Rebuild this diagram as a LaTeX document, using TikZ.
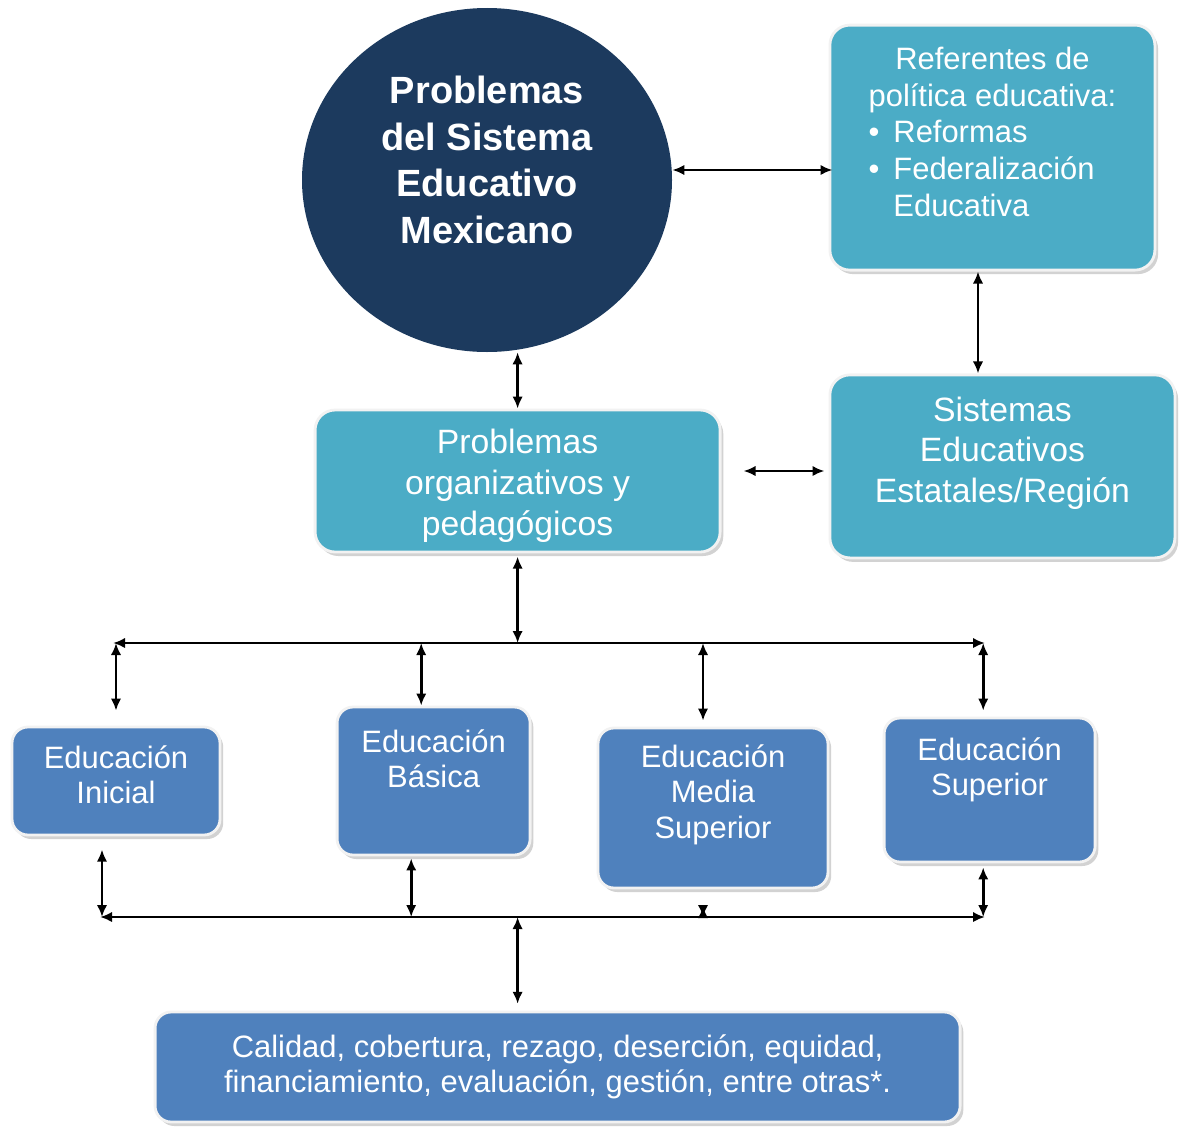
\documentclass[tikz,border=0pt]{standalone}
\usepackage{fontspec}
\setmainfont{Liberation Sans}
\usetikzlibrary{arrows.meta,calc,positioning,shadows,shapes.geometric}
\definecolor{Navy}{HTML}{1C3A5E}
\definecolor{Teal}{HTML}{4BACC6}
\definecolor{Steel}{HTML}{4F81BD}
\definecolor{Rim}{HTML}{F2F2F2}

\begin{document}
\begin{tikzpicture}[
  every node/.style={align=center,text=white},
  box/.style={draw=Rim,line width=2pt,rounded corners=0.5cm,fill=Teal,
    drop shadow={shadow xshift=0.08cm,shadow yshift=-0.1cm,fill=black!35}},
  edu/.style={box,fill=Steel,rounded corners=0.4cm},
  txt/.style={font=\fontsize{22}{25}\selectfont},
  big/.style={font=\fontsize{24}{29}\selectfont},
  arr/.style={{Latex[length=3mm,width=2.6mm]}-{Latex[length=3mm,width=2.6mm]},line width=2pt,black}
]
  \useasboundingbox (0,0) rectangle (29.475,-28.2);
  % upper part
  \node[ellipse,fill=Navy,minimum width=9.25cm,minimum height=8.6cm,inner sep=0pt,
    label={[font=\fontsize{27}{33}\selectfont\bfseries,yshift=0.5cm]center:{Problemas\\del Sistema\\Educativo\\Mexicano}}] (circ) at (12.175,-4.5) {};
  \node[box,minimum width=8.125cm,minimum height=6.125cm,
    label={[font=\fontsize{22}{26}\selectfont,yshift=0.3cm]center:{\begin{tabular}{@{}c@{\hspace{0.35cm}}l@{}}
      \multicolumn{2}{@{}c@{}}{Referentes de}\\
      \multicolumn{2}{@{}c@{}}{política educativa:}\\
      \textbullet & Reformas\\
      \textbullet & Federalización\\
                  & Educativa
    \end{tabular}}}] (ref) at (24.81,-3.69) {};
  \node[box,minimum width=8.625cm,minimum height=4.575cm,
    label={[big,yshift=0.33cm]center:{Sistemas\\Educativos\\Estatales/Región}}] (sist) at (25.06,-11.66) {};
  \node[box,minimum width=10.125cm,minimum height=3.55cm,
    label={[big,yshift=-0.12cm]center:{Problemas\\organizativos y\\pedagógicos}}] (org) at (12.94,-12.025) {};
  % levels
  \node[edu,minimum width=5.2cm,minimum height=2.7cm,
    label={[txt,yshift=0.15cm]center:{Educación\\Inicial}}] (inicial) at (2.9,-19.525) {};
  \node[edu,minimum width=4.825cm,minimum height=3.7cm,
    label={[txt,yshift=0.55cm]center:{Educación\\Básica}}] (basica) at (10.84,-19.525) {};
  \node[edu,minimum width=5.75cm,minimum height=4cm,
    label={[txt,yshift=0.33cm]center:{Educación\\Media\\Superior}}] (media) at (17.825,-20.2) {};
  \node[edu,minimum width=5.275cm,minimum height=3.6cm,
    label={[txt,yshift=0.5cm]center:{Educación\\Superior}}] (superior) at (24.74,-19.75) {};
  \node[edu,txt,minimum width=20.125cm,minimum height=2.75cm] (bot) at (13.94,-26.675) {Calidad, cobertura, rezago, deserción, equidad,\\financiamiento, evaluación, gestión, entre otras*.};
  % buses
  \coordinate (tl) at (2.825,-16.075);
  \coordinate (tr) at (24.625,-16.075);
  \coordinate (bl) at (2.5,-22.925);
  \coordinate (br) at (24.625,-22.925);
  % connectors
  \draw[arr] ($(circ.east)+(0,0.25)$) -- ($(circ.east -| ref.west)+(0.1,0.25)$);
  \draw[arr] ($(ref.south)+(-0.36,0)$) -- ($(ref.south |- sist.north)+(-0.36,0)$);
  \draw[arr] (org.north |- circ.south) -- (org.north);
  \draw[arr] ($(org.east)+(0.55,0.25)$) -- ($(org.east -| sist.west)+(-0.1,0.25)$);
  \draw[arr] (tl) -- (tr);
  \draw[arr,shorten <=0.08cm] (org.south) -- (org.south |- tl);
  \draw[arr,shorten >=0.375cm] (inicial.north |- tl) -- (inicial.north);
  \draw[arr] ($(basica.north |- tl)+(-0.31,0)$) -- ($(basica.north)+(-0.31,0)$);
  \draw[arr,shorten >=0.15cm] ($(media.north |- tl)+(-0.25,0)$) -- ($(media.north)+(-0.25,0)$);
  \draw[arr,shorten >=0.15cm] ($(superior.north |- tl)+(-0.16,0)$) -- ($(superior.north)+(-0.16,0)$);
  \draw[arr] (bl) -- (br);
  \draw[arr,shorten <=0.33cm] ($(inicial.south)+(-0.35,0)$) -- ($(inicial.south |- bl)+(-0.35,0)$);
  \draw[arr,shorten <=0.05cm] ($(basica.south)+(-0.56,0)$) -- ($(basica.south |- bl)+(-0.56,0)$);
  \draw[arr,shorten <=0.42cm] ($(media.south)+(-0.25,0)$) -- ($(media.south |- bl)+(-0.25,0)$);
  \draw[arr,shorten <=0.1cm] ($(superior.south)+(-0.16,0)$) -- ($(superior.south |- bl)+(-0.16,0)$);
  \draw[arr,shorten >=0.17cm] (org.south |- bl) -- (org.south |- bot.north);
\end{tikzpicture}
\end{document}
